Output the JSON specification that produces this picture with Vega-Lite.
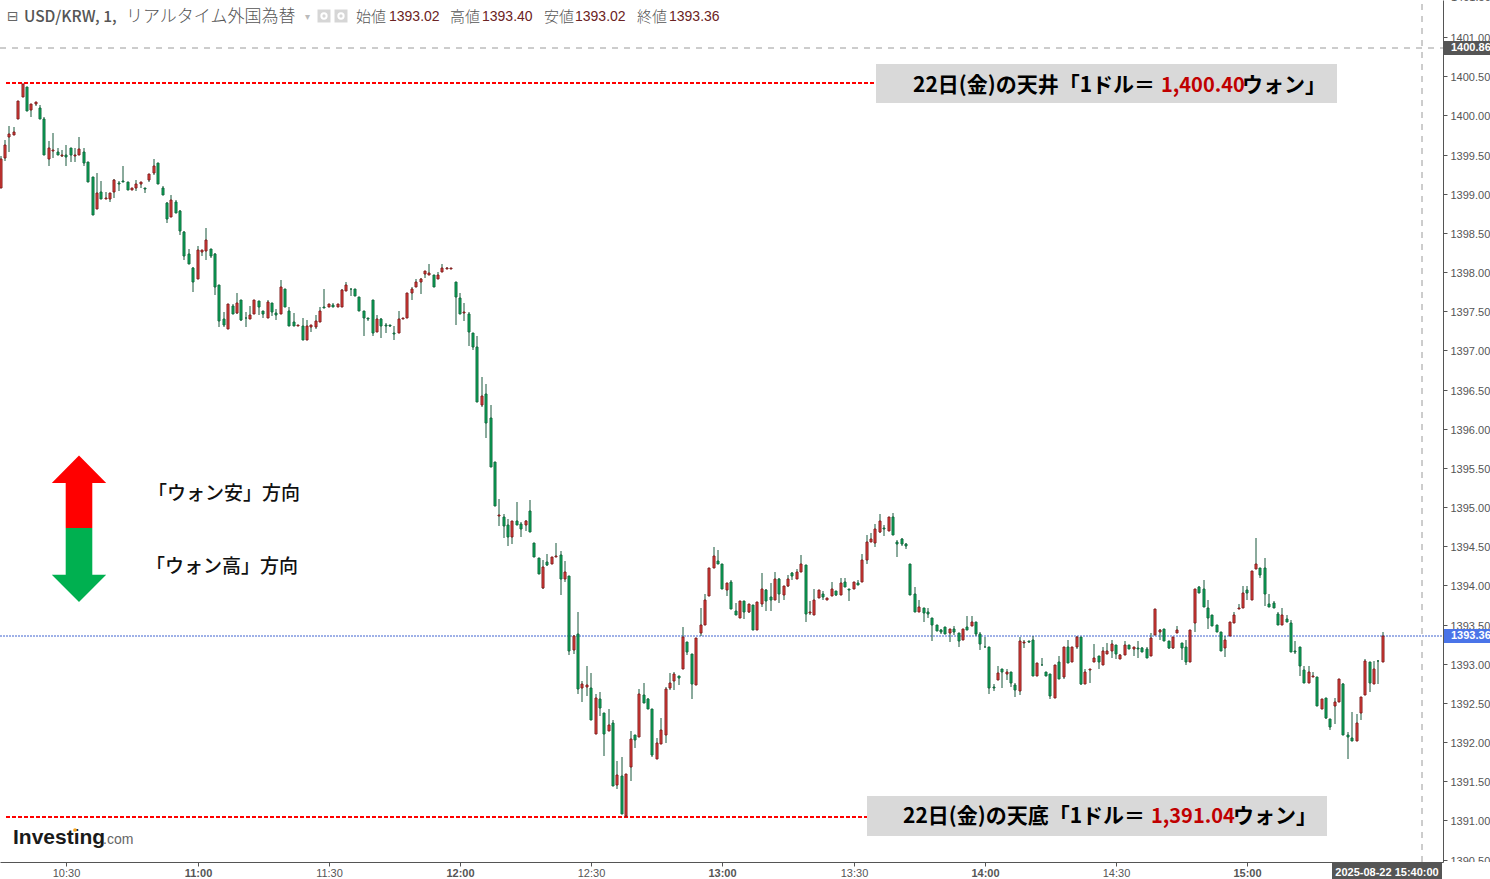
{"$schema":"https://vega.github.io/schema/vega-lite/v6.json","width":1443,"height":862,"autosize":{"type":"none"},"padding":{"left":0,"top":0,"right":47,"bottom":17},"background":"white","view":{"stroke":null},
"datasets":{"candles":[
{"t":"2025-08-22T10:15","o":1399.08,"h":1399.48,"l":1399.08,"c":1399.45},
{"t":"2025-08-22T10:16","o":1399.46,"h":1399.69,"l":1399.42,"c":1399.62},
{"t":"2025-08-22T10:17","o":1399.72,"h":1399.87,"l":1399.54,"c":1399.76},
{"t":"2025-08-22T10:18","o":1399.755,"h":1399.85,"l":1399.755,"c":1399.785},
{"t":"2025-08-22T10:19","o":1399.95,"h":1400.18,"l":1399.95,"c":1400.18},
{"t":"2025-08-22T10:20","o":1400.24,"h":1400.40,"l":1400.24,"c":1400.40},
{"t":"2025-08-22T10:21","o":1400.36,"h":1400.36,"l":1400.06,"c":1400.06},
{"t":"2025-08-22T10:22","o":1400.07,"h":1400.14,"l":1399.985,"c":1400.14},
{"t":"2025-08-22T10:23","o":1400.15,"h":1400.17,"l":1400.12,"c":1400.17},
{"t":"2025-08-22T10:24","o":1400.10,"h":1400.13,"l":1399.96,"c":1399.96},
{"t":"2025-08-22T10:25","o":1399.955,"h":1399.98,"l":1399.50,"c":1399.50},
{"t":"2025-08-22T10:26","o":1399.44,"h":1399.67,"l":1399.36,"c":1399.58},
{"t":"2025-08-22T10:27","o":1399.55,"h":1399.78,"l":1399.46,"c":1399.56},
{"t":"2025-08-22T10:28","o":1399.54,"h":1399.59,"l":1399.49,"c":1399.49},
{"t":"2025-08-22T10:29","o":1399.48,"h":1399.56,"l":1399.47,"c":1399.50},
{"t":"2025-08-22T10:30","o":1399.50,"h":1399.62,"l":1399.36,"c":1399.475},
{"t":"2025-08-22T10:31","o":1399.58,"h":1399.59,"l":1399.40,"c":1399.49},
{"t":"2025-08-22T10:32","o":1399.48,"h":1399.59,"l":1399.40,"c":1399.50},
{"t":"2025-08-22T10:33","o":1399.49,"h":1399.73,"l":1399.49,"c":1399.57},
{"t":"2025-08-22T10:34","o":1399.54,"h":1399.59,"l":1399.35,"c":1399.39},
{"t":"2025-08-22T10:35","o":1399.40,"h":1399.40,"l":1399.15,"c":1399.15},
{"t":"2025-08-22T10:36","o":1399.21,"h":1399.21,"l":1398.73,"c":1398.73},
{"t":"2025-08-22T10:37","o":1398.80,"h":1399.27,"l":1398.80,"c":1399.01},
{"t":"2025-08-22T10:38","o":1399.02,"h":1399.16,"l":1398.94,"c":1398.94},
{"t":"2025-08-22T10:39","o":1398.94,"h":1399.02,"l":1398.94,"c":1398.95},
{"t":"2025-08-22T10:40","o":1398.93,"h":1399.01,"l":1398.89,"c":1399.01},
{"t":"2025-08-22T10:41","o":1399.02,"h":1399.19,"l":1398.95,"c":1399.17},
{"t":"2025-08-22T10:42","o":1399.14,"h":1399.16,"l":1399.03,"c":1399.12},
{"t":"2025-08-22T10:43","o":1399.16,"h":1399.35,"l":1399.155,"c":1399.155},
{"t":"2025-08-22T10:44","o":1399.15,"h":1399.15,"l":1399.05,"c":1399.05},
{"t":"2025-08-22T10:45","o":1399.05,"h":1399.08,"l":1399.05,"c":1399.08},
{"t":"2025-08-22T10:46","o":1399.08,"h":1399.17,"l":1399.03,"c":1399.12},
{"t":"2025-08-22T10:47","o":1399.13,"h":1399.15,"l":1399.07,"c":1399.15},
{"t":"2025-08-22T10:48","o":1399.07,"h":1399.07,"l":1399.01,"c":1399.065},
{"t":"2025-08-22T10:49","o":1399.18,"h":1399.25,"l":1399.155,"c":1399.25},
{"t":"2025-08-22T10:50","o":1399.26,"h":1399.445,"l":1399.245,"c":1399.35},
{"t":"2025-08-22T10:51","o":1399.39,"h":1399.39,"l":1399.12,"c":1399.12},
{"t":"2025-08-22T10:52","o":1399.07,"h":1399.10,"l":1398.98,"c":1398.98},
{"t":"2025-08-22T10:53","o":1398.88,"h":1398.90,"l":1398.63,"c":1398.68},
{"t":"2025-08-22T10:54","o":1398.70,"h":1398.98,"l":1398.70,"c":1398.92},
{"t":"2025-08-22T10:55","o":1398.90,"h":1398.92,"l":1398.76,"c":1398.76},
{"t":"2025-08-22T10:56","o":1398.78,"h":1398.79,"l":1398.47,"c":1398.52},
{"t":"2025-08-22T10:57","o":1398.51,"h":1398.53,"l":1398.16,"c":1398.21},
{"t":"2025-08-22T10:58","o":1398.23,"h":1398.29,"l":1398.10,"c":1398.10},
{"t":"2025-08-22T10:59","o":1398.05,"h":1398.07,"l":1397.75,"c":1397.87},
{"t":"2025-08-22T11:00","o":1397.91,"h":1398.34,"l":1397.91,"c":1398.28},
{"t":"2025-08-22T11:01","o":1398.26,"h":1398.28,"l":1398.21,"c":1398.28},
{"t":"2025-08-22T11:02","o":1398.27,"h":1398.56,"l":1398.16,"c":1398.41},
{"t":"2025-08-22T11:03","o":1398.30,"h":1398.30,"l":1398.185,"c":1398.21},
{"t":"2025-08-22T11:04","o":1398.23,"h":1398.25,"l":1397.71,"c":1397.815},
{"t":"2025-08-22T11:05","o":1397.83,"h":1397.83,"l":1397.305,"c":1397.37},
{"t":"2025-08-22T11:06","o":1397.40,"h":1397.49,"l":1397.305,"c":1397.33},
{"t":"2025-08-22T11:07","o":1397.28,"h":1397.59,"l":1397.28,"c":1397.59},
{"t":"2025-08-22T11:08","o":1397.57,"h":1397.59,"l":1397.47,"c":1397.47},
{"t":"2025-08-22T11:09","o":1397.48,"h":1397.73,"l":1397.47,"c":1397.60},
{"t":"2025-08-22T11:10","o":1397.64,"h":1397.64,"l":1397.38,"c":1397.39},
{"t":"2025-08-22T11:11","o":1397.42,"h":1397.49,"l":1397.30,"c":1397.41},
{"t":"2025-08-22T11:12","o":1397.40,"h":1397.57,"l":1397.40,"c":1397.45},
{"t":"2025-08-22T11:13","o":1397.47,"h":1397.64,"l":1397.47,"c":1397.64},
{"t":"2025-08-22T11:14","o":1397.63,"h":1397.63,"l":1397.45,"c":1397.55},
{"t":"2025-08-22T11:15","o":1397.50,"h":1397.51,"l":1397.42,"c":1397.46},
{"t":"2025-08-22T11:16","o":1397.42,"h":1397.65,"l":1397.42,"c":1397.615},
{"t":"2025-08-22T11:17","o":1397.60,"h":1397.60,"l":1397.445,"c":1397.49},
{"t":"2025-08-22T11:18","o":1397.475,"h":1397.525,"l":1397.39,"c":1397.45},
{"t":"2025-08-22T11:19","o":1397.46,"h":1397.895,"l":1397.46,"c":1397.81},
{"t":"2025-08-22T11:20","o":1397.78,"h":1397.78,"l":1397.55,"c":1397.55},
{"t":"2025-08-22T11:21","o":1397.51,"h":1397.55,"l":1397.31,"c":1397.31},
{"t":"2025-08-22T11:22","o":1397.36,"h":1397.475,"l":1397.31,"c":1397.31},
{"t":"2025-08-22T11:23","o":1397.31,"h":1397.33,"l":1397.31,"c":1397.33},
{"t":"2025-08-22T11:24","o":1397.31,"h":1397.41,"l":1397.13,"c":1397.13},
{"t":"2025-08-22T11:25","o":1397.13,"h":1397.385,"l":1397.13,"c":1397.31},
{"t":"2025-08-22T11:26","o":1397.30,"h":1397.33,"l":1397.24,"c":1397.33},
{"t":"2025-08-22T11:27","o":1397.30,"h":1397.45,"l":1397.28,"c":1397.37},
{"t":"2025-08-22T11:28","o":1397.36,"h":1397.55,"l":1397.36,"c":1397.51},
{"t":"2025-08-22T11:29","o":1397.55,"h":1397.78,"l":1397.54,"c":1397.54},
{"t":"2025-08-22T11:30","o":1397.55,"h":1397.59,"l":1397.55,"c":1397.59},
{"t":"2025-08-22T11:31","o":1397.58,"h":1397.60,"l":1397.56,"c":1397.56},
{"t":"2025-08-22T11:32","o":1397.56,"h":1397.59,"l":1397.56,"c":1397.59},
{"t":"2025-08-22T11:33","o":1397.56,"h":1397.78,"l":1397.56,"c":1397.77},
{"t":"2025-08-22T11:34","o":1397.755,"h":1397.87,"l":1397.755,"c":1397.83},
{"t":"2025-08-22T11:35","o":1397.79,"h":1397.79,"l":1397.70,"c":1397.78},
{"t":"2025-08-22T11:36","o":1397.78,"h":1397.79,"l":1397.69,"c":1397.69},
{"t":"2025-08-22T11:37","o":1397.68,"h":1397.68,"l":1397.51,"c":1397.51},
{"t":"2025-08-22T11:38","o":1397.50,"h":1397.50,"l":1397.19,"c":1397.41},
{"t":"2025-08-22T11:39","o":1397.42,"h":1397.42,"l":1397.37,"c":1397.40},
{"t":"2025-08-22T11:40","o":1397.65,"h":1397.65,"l":1397.19,"c":1397.22},
{"t":"2025-08-22T11:41","o":1397.23,"h":1397.45,"l":1397.23,"c":1397.40},
{"t":"2025-08-22T11:42","o":1397.40,"h":1397.41,"l":1397.155,"c":1397.31},
{"t":"2025-08-22T11:43","o":1397.33,"h":1397.35,"l":1397.22,"c":1397.31},
{"t":"2025-08-22T11:44","o":1397.32,"h":1397.32,"l":1397.295,"c":1397.31},
{"t":"2025-08-22T11:45","o":1397.22,"h":1397.31,"l":1397.13,"c":1397.21},
{"t":"2025-08-22T11:46","o":1397.22,"h":1397.51,"l":1397.22,"c":1397.40},
{"t":"2025-08-22T11:47","o":1397.405,"h":1397.42,"l":1397.405,"c":1397.415},
{"t":"2025-08-22T11:48","o":1397.41,"h":1397.73,"l":1397.41,"c":1397.73},
{"t":"2025-08-22T11:49","o":1397.73,"h":1397.81,"l":1397.65,"c":1397.78},
{"t":"2025-08-22T11:50","o":1397.81,"h":1397.91,"l":1397.81,"c":1397.87},
{"t":"2025-08-22T11:51","o":1397.87,"h":1397.93,"l":1397.72,"c":1397.91},
{"t":"2025-08-22T11:52","o":1397.97,"h":1398.01,"l":1397.92,"c":1398.01},
{"t":"2025-08-22T11:53","o":1397.96,"h":1398.10,"l":1397.96,"c":1397.985},
{"t":"2025-08-22T11:54","o":1397.96,"h":1397.96,"l":1397.81,"c":1397.81},
{"t":"2025-08-22T11:55","o":1397.91,"h":1398.00,"l":1397.91,"c":1397.96},
{"t":"2025-08-22T11:56","o":1398.00,"h":1398.10,"l":1398.00,"c":1398.05},
{"t":"2025-08-22T11:57","o":1398.045,"h":1398.06,"l":1398.045,"c":1398.05},
{"t":"2025-08-22T11:58","o":1398.045,"h":1398.05,"l":1398.045,"c":1398.05},
{"t":"2025-08-22T11:59","o":1397.88,"h":1397.88,"l":1397.33,"c":1397.68},
{"t":"2025-08-22T12:00","o":1397.67,"h":1397.73,"l":1397.46,"c":1397.46},
{"t":"2025-08-22T12:01","o":1397.475,"h":1397.60,"l":1397.37,"c":1397.49},
{"t":"2025-08-22T12:02","o":1397.46,"h":1397.49,"l":1397.06,"c":1397.23},
{"t":"2025-08-22T12:03","o":1397.22,"h":1397.22,"l":1397.00,"c":1397.04},
{"t":"2025-08-22T12:04","o":1397.04,"h":1397.18,"l":1396.34,"c":1396.34},
{"t":"2025-08-22T12:05","o":1396.30,"h":1396.66,"l":1396.275,"c":1396.415},
{"t":"2025-08-22T12:06","o":1396.45,"h":1396.57,"l":1395.88,"c":1396.07},
{"t":"2025-08-22T12:07","o":1396.135,"h":1396.30,"l":1395.51,"c":1395.51},
{"t":"2025-08-22T12:08","o":1395.57,"h":1395.57,"l":1395.01,"c":1395.02},
{"t":"2025-08-22T12:09","o":1394.885,"h":1395.10,"l":1394.765,"c":1394.90},
{"t":"2025-08-22T12:10","o":1394.87,"h":1394.91,"l":1394.61,"c":1394.76},
{"t":"2025-08-22T12:11","o":1394.77,"h":1394.845,"l":1394.51,"c":1394.62},
{"t":"2025-08-22T12:12","o":1394.62,"h":1394.82,"l":1394.53,"c":1394.82},
{"t":"2025-08-22T12:13","o":1394.82,"h":1395.06,"l":1394.77,"c":1394.77},
{"t":"2025-08-22T12:14","o":1394.79,"h":1394.81,"l":1394.62,"c":1394.72},
{"t":"2025-08-22T12:15","o":1394.77,"h":1394.83,"l":1394.69,"c":1394.82},
{"t":"2025-08-22T12:16","o":1394.95,"h":1395.09,"l":1394.68,"c":1394.68},
{"t":"2025-08-22T12:17","o":1394.54,"h":1394.54,"l":1394.36,"c":1394.36},
{"t":"2025-08-22T12:18","o":1394.35,"h":1394.35,"l":1394.15,"c":1394.15},
{"t":"2025-08-22T12:19","o":1393.97,"h":1394.32,"l":1393.95,"c":1394.23},
{"t":"2025-08-22T12:20","o":1394.30,"h":1394.40,"l":1394.25,"c":1394.26},
{"t":"2025-08-22T12:21","o":1394.27,"h":1394.36,"l":1394.27,"c":1394.36},
{"t":"2025-08-22T12:22","o":1394.36,"h":1394.54,"l":1394.36,"c":1394.37},
{"t":"2025-08-22T12:23","o":1394.385,"h":1394.44,"l":1393.875,"c":1394.08},
{"t":"2025-08-22T12:24","o":1394.08,"h":1394.31,"l":1394.04,"c":1394.17},
{"t":"2025-08-22T12:25","o":1394.12,"h":1394.12,"l":1393.11,"c":1393.16},
{"t":"2025-08-22T12:26","o":1393.17,"h":1393.37,"l":1393.12,"c":1393.36},
{"t":"2025-08-22T12:27","o":1393.375,"h":1393.66,"l":1392.61,"c":1392.675},
{"t":"2025-08-22T12:28","o":1392.69,"h":1392.78,"l":1392.51,"c":1392.74},
{"t":"2025-08-22T12:29","o":1392.70,"h":1392.97,"l":1392.585,"c":1392.725},
{"t":"2025-08-22T12:30","o":1392.69,"h":1392.88,"l":1392.28,"c":1392.28},
{"t":"2025-08-22T12:31","o":1392.11,"h":1392.61,"l":1392.11,"c":1392.56},
{"t":"2025-08-22T12:32","o":1392.55,"h":1392.64,"l":1392.33,"c":1392.43},
{"t":"2025-08-22T12:33","o":1392.37,"h":1392.37,"l":1391.82,"c":1392.11},
{"t":"2025-08-22T12:34","o":1392.14,"h":1392.42,"l":1392.14,"c":1392.215},
{"t":"2025-08-22T12:35","o":1392.24,"h":1392.28,"l":1391.44,"c":1391.44},
{"t":"2025-08-22T12:36","o":1391.45,"h":1391.76,"l":1391.40,"c":1391.58},
{"t":"2025-08-22T12:37","o":1391.565,"h":1391.81,"l":1391.08,"c":1391.08},
{"t":"2025-08-22T12:38","o":1391.06,"h":1391.59,"l":1391.04,"c":1391.59},
{"t":"2025-08-22T12:39","o":1391.68,"h":1392.14,"l":1391.51,"c":1392.04},
{"t":"2025-08-22T12:40","o":1392.09,"h":1392.09,"l":1391.93,"c":1392.025},
{"t":"2025-08-22T12:41","o":1392.06,"h":1392.675,"l":1392.06,"c":1392.62},
{"t":"2025-08-22T12:42","o":1392.60,"h":1392.75,"l":1392.495,"c":1392.495},
{"t":"2025-08-22T12:43","o":1392.55,"h":1392.56,"l":1392.42,"c":1392.42},
{"t":"2025-08-22T12:44","o":1392.42,"h":1392.42,"l":1391.815,"c":1391.83},
{"t":"2025-08-22T12:45","o":1391.78,"h":1392.05,"l":1391.78,"c":1391.985},
{"t":"2025-08-22T12:46","o":1391.97,"h":1392.305,"l":1391.97,"c":1392.15},
{"t":"2025-08-22T12:47","o":1392.09,"h":1392.70,"l":1391.985,"c":1392.675},
{"t":"2025-08-22T12:48","o":1392.69,"h":1392.88,"l":1392.66,"c":1392.75},
{"t":"2025-08-22T12:49","o":1392.78,"h":1392.89,"l":1392.66,"c":1392.865},
{"t":"2025-08-22T12:50","o":1392.85,"h":1392.85,"l":1392.725,"c":1392.815},
{"t":"2025-08-22T12:51","o":1392.93,"h":1393.466,"l":1392.93,"c":1393.34},
{"t":"2025-08-22T12:52","o":1393.275,"h":1393.275,"l":1393.11,"c":1393.15},
{"t":"2025-08-22T12:53","o":1393.12,"h":1393.12,"l":1392.55,"c":1392.74},
{"t":"2025-08-22T12:54","o":1392.725,"h":1393.325,"l":1392.725,"c":1393.325},
{"t":"2025-08-22T12:55","o":1393.39,"h":1393.71,"l":1393.36,"c":1393.49},
{"t":"2025-08-22T12:56","o":1393.49,"h":1393.89,"l":1393.49,"c":1393.81},
{"t":"2025-08-22T12:57","o":1393.86,"h":1394.22,"l":1393.86,"c":1394.22},
{"t":"2025-08-22T12:58","o":1394.22,"h":1394.49,"l":1394.22,"c":1394.37},
{"t":"2025-08-22T12:59","o":1394.31,"h":1394.45,"l":1394.27,"c":1394.27},
{"t":"2025-08-22T13:00","o":1394.28,"h":1394.28,"l":1393.95,"c":1393.96},
{"t":"2025-08-22T13:01","o":1393.94,"h":1394.03,"l":1393.86,"c":1394.03},
{"t":"2025-08-22T13:02","o":1394.04,"h":1394.065,"l":1393.70,"c":1393.695},
{"t":"2025-08-22T13:03","o":1393.68,"h":1393.77,"l":1393.62,"c":1393.62},
{"t":"2025-08-22T13:04","o":1393.59,"h":1393.80,"l":1393.59,"c":1393.80},
{"t":"2025-08-22T13:05","o":1393.80,"h":1393.80,"l":1393.57,"c":1393.66},
{"t":"2025-08-22T13:06","o":1393.66,"h":1393.76,"l":1393.645,"c":1393.76},
{"t":"2025-08-22T13:07","o":1393.75,"h":1393.75,"l":1393.43,"c":1393.43},
{"t":"2025-08-22T13:08","o":1393.43,"h":1393.785,"l":1393.43,"c":1393.785},
{"t":"2025-08-22T13:09","o":1393.76,"h":1394.155,"l":1393.72,"c":1393.95},
{"t":"2025-08-22T13:10","o":1393.94,"h":1393.96,"l":1393.67,"c":1393.80},
{"t":"2025-08-22T13:11","o":1393.85,"h":1394.03,"l":1393.67,"c":1393.82},
{"t":"2025-08-22T13:12","o":1393.81,"h":1394.17,"l":1393.81,"c":1394.08},
{"t":"2025-08-22T13:13","o":1394.08,"h":1394.09,"l":1393.77,"c":1393.89},
{"t":"2025-08-22T13:14","o":1393.875,"h":1393.99,"l":1393.82,"c":1393.99},
{"t":"2025-08-22T13:15","o":1393.99,"h":1394.13,"l":1393.975,"c":1394.08},
{"t":"2025-08-22T13:16","o":1394.155,"h":1394.17,"l":1394.065,"c":1394.12},
{"t":"2025-08-22T13:17","o":1394.08,"h":1394.21,"l":1394.08,"c":1394.17},
{"t":"2025-08-22T13:18","o":1394.17,"h":1394.385,"l":1394.17,"c":1394.27},
{"t":"2025-08-22T13:19","o":1394.26,"h":1394.26,"l":1393.53,"c":1393.63},
{"t":"2025-08-22T13:20","o":1393.65,"h":1393.80,"l":1393.62,"c":1393.66},
{"t":"2025-08-22T13:21","o":1393.62,"h":1393.95,"l":1393.62,"c":1393.82},
{"t":"2025-08-22T13:22","o":1393.835,"h":1393.94,"l":1393.835,"c":1393.94},
{"t":"2025-08-22T13:23","o":1393.89,"h":1393.925,"l":1393.81,"c":1393.85},
{"t":"2025-08-22T13:24","o":1393.82,"h":1393.84,"l":1393.81,"c":1393.84},
{"t":"2025-08-22T13:25","o":1393.86,"h":1394.05,"l":1393.86,"c":1393.95},
{"t":"2025-08-22T13:26","o":1393.925,"h":1393.925,"l":1393.86,"c":1393.875},
{"t":"2025-08-22T13:27","o":1393.875,"h":1394.10,"l":1393.875,"c":1394.03},
{"t":"2025-08-22T13:28","o":1394.04,"h":1394.09,"l":1393.975,"c":1393.975},
{"t":"2025-08-22T13:29","o":1393.95,"h":1393.95,"l":1393.80,"c":1393.94},
{"t":"2025-08-22T13:30","o":1393.95,"h":1394.05,"l":1393.95,"c":1394.05},
{"t":"2025-08-22T13:31","o":1394.03,"h":1394.065,"l":1394.01,"c":1394.01},
{"t":"2025-08-22T13:32","o":1394.05,"h":1394.40,"l":1394.05,"c":1394.32},
{"t":"2025-08-22T13:33","o":1394.33,"h":1394.64,"l":1394.28,"c":1394.55},
{"t":"2025-08-22T13:34","o":1394.55,"h":1394.665,"l":1394.55,"c":1394.59},
{"t":"2025-08-22T13:35","o":1394.54,"h":1394.78,"l":1394.49,"c":1394.72},
{"t":"2025-08-22T13:36","o":1394.68,"h":1394.91,"l":1394.665,"c":1394.82},
{"t":"2025-08-22T13:37","o":1394.74,"h":1394.77,"l":1394.63,"c":1394.72},
{"t":"2025-08-22T13:38","o":1394.70,"h":1394.87,"l":1394.69,"c":1394.87},
{"t":"2025-08-22T13:39","o":1394.88,"h":1394.92,"l":1394.65,"c":1394.65},
{"t":"2025-08-22T13:40","o":1394.56,"h":1394.575,"l":1394.36,"c":1394.525},
{"t":"2025-08-22T13:41","o":1394.59,"h":1394.61,"l":1394.51,"c":1394.525},
{"t":"2025-08-22T13:42","o":1394.525,"h":1394.54,"l":1394.46,"c":1394.50},
{"t":"2025-08-22T13:43","o":1394.27,"h":1394.27,"l":1393.875,"c":1393.875},
{"t":"2025-08-22T13:44","o":1393.89,"h":1393.975,"l":1393.66,"c":1393.66},
{"t":"2025-08-22T13:45","o":1393.66,"h":1393.81,"l":1393.66,"c":1393.73},
{"t":"2025-08-22T13:46","o":1393.71,"h":1393.71,"l":1393.53,"c":1393.645},
{"t":"2025-08-22T13:47","o":1393.66,"h":1393.71,"l":1393.59,"c":1393.63},
{"t":"2025-08-22T13:48","o":1393.58,"h":1393.58,"l":1393.29,"c":1393.49},
{"t":"2025-08-22T13:49","o":1393.49,"h":1393.49,"l":1393.415,"c":1393.415},
{"t":"2025-08-22T13:50","o":1393.43,"h":1393.45,"l":1393.375,"c":1393.40},
{"t":"2025-08-22T13:51","o":1393.465,"h":1393.465,"l":1393.375,"c":1393.375},
{"t":"2025-08-22T13:52","o":1393.39,"h":1393.45,"l":1393.275,"c":1393.45},
{"t":"2025-08-22T13:53","o":1393.44,"h":1393.48,"l":1393.365,"c":1393.40},
{"t":"2025-08-22T13:54","o":1393.39,"h":1393.39,"l":1393.21,"c":1393.29},
{"t":"2025-08-22T13:55","o":1393.31,"h":1393.44,"l":1393.31,"c":1393.44},
{"t":"2025-08-22T13:56","o":1393.465,"h":1393.605,"l":1393.43,"c":1393.43},
{"t":"2025-08-22T13:57","o":1393.48,"h":1393.605,"l":1393.48,"c":1393.53},
{"t":"2025-08-22T13:58","o":1393.53,"h":1393.53,"l":1393.35,"c":1393.375},
{"t":"2025-08-22T13:59","o":1393.375,"h":1393.40,"l":1393.17,"c":1393.25},
{"t":"2025-08-22T14:00","o":1393.215,"h":1393.34,"l":1393.21,"c":1393.21},
{"t":"2025-08-22T14:01","o":1393.22,"h":1393.22,"l":1392.62,"c":1392.69},
{"t":"2025-08-22T14:02","o":1392.70,"h":1392.74,"l":1392.65,"c":1392.69},
{"t":"2025-08-22T14:03","o":1392.79,"h":1392.97,"l":1392.79,"c":1392.88},
{"t":"2025-08-22T14:04","o":1392.93,"h":1392.93,"l":1392.69,"c":1392.89},
{"t":"2025-08-22T14:05","o":1392.865,"h":1392.93,"l":1392.79,"c":1392.90},
{"t":"2025-08-22T14:06","o":1392.89,"h":1392.89,"l":1392.70,"c":1392.75},
{"t":"2025-08-22T14:07","o":1392.725,"h":1392.75,"l":1392.57,"c":1392.66},
{"t":"2025-08-22T14:08","o":1392.65,"h":1393.34,"l":1392.60,"c":1393.29},
{"t":"2025-08-22T14:09","o":1393.27,"h":1393.30,"l":1393.20,"c":1393.28},
{"t":"2025-08-22T14:10","o":1393.29,"h":1393.29,"l":1393.26,"c":1393.275},
{"t":"2025-08-22T14:11","o":1393.30,"h":1393.355,"l":1392.85,"c":1392.85},
{"t":"2025-08-22T14:12","o":1392.85,"h":1393.01,"l":1392.85,"c":1393.01},
{"t":"2025-08-22T14:13","o":1392.99,"h":1393.07,"l":1392.98,"c":1392.98},
{"t":"2025-08-22T14:14","o":1392.89,"h":1392.89,"l":1392.84,"c":1392.84},
{"t":"2025-08-22T14:15","o":1392.865,"h":1392.865,"l":1392.55,"c":1392.585},
{"t":"2025-08-22T14:16","o":1392.56,"h":1392.99,"l":1392.56,"c":1392.99},
{"t":"2025-08-22T14:17","o":1393.02,"h":1393.095,"l":1392.80,"c":1392.80},
{"t":"2025-08-22T14:18","o":1392.83,"h":1393.22,"l":1392.80,"c":1393.22},
{"t":"2025-08-22T14:19","o":1393.21,"h":1393.30,"l":1393.005,"c":1393.005},
{"t":"2025-08-22T14:20","o":1393.02,"h":1393.22,"l":1393.02,"c":1393.21},
{"t":"2025-08-22T14:21","o":1393.22,"h":1393.36,"l":1393.185,"c":1393.34},
{"t":"2025-08-22T14:22","o":1393.34,"h":1393.34,"l":1392.725,"c":1392.74},
{"t":"2025-08-22T14:23","o":1392.74,"h":1392.93,"l":1392.74,"c":1392.90},
{"t":"2025-08-22T14:24","o":1392.92,"h":1392.93,"l":1392.76,"c":1392.93},
{"t":"2025-08-22T14:25","o":1393.02,"h":1393.25,"l":1393.02,"c":1393.07},
{"t":"2025-08-22T14:26","o":1393.095,"h":1393.095,"l":1392.94,"c":1393.02},
{"t":"2025-08-22T14:27","o":1392.99,"h":1393.21,"l":1392.99,"c":1393.16},
{"t":"2025-08-22T14:28","o":1393.12,"h":1393.26,"l":1393.12,"c":1393.16},
{"t":"2025-08-22T14:29","o":1393.16,"h":1393.31,"l":1393.07,"c":1393.25},
{"t":"2025-08-22T14:30","o":1393.235,"h":1393.235,"l":1393.06,"c":1393.13},
{"t":"2025-08-22T14:31","o":1393.06,"h":1393.12,"l":1393.06,"c":1393.11},
{"t":"2025-08-22T14:32","o":1393.11,"h":1393.29,"l":1393.11,"c":1393.235},
{"t":"2025-08-22T14:33","o":1393.235,"h":1393.235,"l":1393.185,"c":1393.185},
{"t":"2025-08-22T14:34","o":1393.185,"h":1393.21,"l":1393.095,"c":1393.21},
{"t":"2025-08-22T14:35","o":1393.20,"h":1393.29,"l":1393.07,"c":1393.185},
{"t":"2025-08-22T14:36","o":1393.197,"h":1393.21,"l":1393.146,"c":1393.146},
{"t":"2025-08-22T14:37","o":1393.185,"h":1393.21,"l":1393.08,"c":1393.08},
{"t":"2025-08-22T14:38","o":1393.095,"h":1393.39,"l":1393.095,"c":1393.325},
{"t":"2025-08-22T14:39","o":1393.364,"h":1393.695,"l":1393.364,"c":1393.695},
{"t":"2025-08-22T14:40","o":1393.40,"h":1393.45,"l":1393.30,"c":1393.427},
{"t":"2025-08-22T14:41","o":1393.44,"h":1393.45,"l":1393.29,"c":1393.29},
{"t":"2025-08-22T14:42","o":1393.29,"h":1393.29,"l":1393.185,"c":1393.20},
{"t":"2025-08-22T14:43","o":1393.20,"h":1393.34,"l":1393.185,"c":1393.34},
{"t":"2025-08-22T14:44","o":1393.39,"h":1393.48,"l":1393.39,"c":1393.43},
{"t":"2025-08-22T14:45","o":1393.26,"h":1393.26,"l":1393.05,"c":1393.20},
{"t":"2025-08-22T14:46","o":1393.21,"h":1393.31,"l":1392.98,"c":1393.02},
{"t":"2025-08-22T14:47","o":1393.02,"h":1393.43,"l":1393.02,"c":1393.43},
{"t":"2025-08-22T14:48","o":1393.52,"h":1393.95,"l":1393.41,"c":1393.95},
{"t":"2025-08-22T14:49","o":1393.98,"h":1393.99,"l":1393.91,"c":1393.91},
{"t":"2025-08-22T14:50","o":1393.96,"h":1394.07,"l":1393.72,"c":1393.72},
{"t":"2025-08-22T14:51","o":1393.71,"h":1393.82,"l":1393.44,"c":1393.59},
{"t":"2025-08-22T14:52","o":1393.62,"h":1393.62,"l":1393.48,"c":1393.48},
{"t":"2025-08-22T14:53","o":1393.49,"h":1393.49,"l":1393.40,"c":1393.40},
{"t":"2025-08-22T14:54","o":1393.41,"h":1393.41,"l":1393.16,"c":1393.16},
{"t":"2025-08-22T14:55","o":1393.20,"h":1393.36,"l":1393.09,"c":1393.30},
{"t":"2025-08-22T14:56","o":1393.36,"h":1393.54,"l":1393.36,"c":1393.53},
{"t":"2025-08-22T14:57","o":1393.52,"h":1393.66,"l":1393.52,"c":1393.62},
{"t":"2025-08-22T14:58","o":1393.70,"h":1393.76,"l":1393.70,"c":1393.71},
{"t":"2025-08-22T14:59","o":1393.71,"h":1393.99,"l":1393.71,"c":1393.90},
{"t":"2025-08-22T15:00","o":1393.94,"h":1393.99,"l":1393.81,"c":1393.90},
{"t":"2025-08-22T15:01","o":1393.81,"h":1394.18,"l":1393.81,"c":1394.18},
{"t":"2025-08-22T15:02","o":1394.21,"h":1394.61,"l":1394.21,"c":1394.27},
{"t":"2025-08-22T15:03","o":1394.22,"h":1394.22,"l":1394.10,"c":1394.13},
{"t":"2025-08-22T15:04","o":1394.22,"h":1394.35,"l":1393.74,"c":1393.89},
{"t":"2025-08-22T15:05","o":1393.76,"h":1393.89,"l":1393.72,"c":1393.72},
{"t":"2025-08-22T15:06","o":1393.77,"h":1393.80,"l":1393.71,"c":1393.71},
{"t":"2025-08-22T15:07","o":1393.63,"h":1393.66,"l":1393.50,"c":1393.50},
{"t":"2025-08-22T15:08","o":1393.49,"h":1393.71,"l":1393.49,"c":1393.62},
{"t":"2025-08-22T15:09","o":1393.57,"h":1393.62,"l":1393.53,"c":1393.54},
{"t":"2025-08-22T15:10","o":1393.52,"h":1393.555,"l":1393.15,"c":1393.15},
{"t":"2025-08-22T15:11","o":1393.16,"h":1393.29,"l":1393.12,"c":1393.155},
{"t":"2025-08-22T15:12","o":1393.22,"h":1393.22,"l":1392.84,"c":1392.97},
{"t":"2025-08-22T15:13","o":1392.92,"h":1392.97,"l":1392.75,"c":1392.75},
{"t":"2025-08-22T15:14","o":1392.75,"h":1392.97,"l":1392.75,"c":1392.89},
{"t":"2025-08-22T15:15","o":1392.83,"h":1392.90,"l":1392.83,"c":1392.84},
{"t":"2025-08-22T15:16","o":1392.83,"h":1392.83,"l":1392.46,"c":1392.46},
{"t":"2025-08-22T15:17","o":1392.42,"h":1392.55,"l":1392.42,"c":1392.55},
{"t":"2025-08-22T15:18","o":1392.56,"h":1392.56,"l":1392.30,"c":1392.31},
{"t":"2025-08-22T15:19","o":1392.29,"h":1392.29,"l":1392.15,"c":1392.19},
{"t":"2025-08-22T15:20","o":1392.46,"h":1392.56,"l":1392.23,"c":1392.51},
{"t":"2025-08-22T15:21","o":1392.51,"h":1392.81,"l":1392.51,"c":1392.81},
{"t":"2025-08-22T15:22","o":1392.74,"h":1392.75,"l":1392.09,"c":1392.09},
{"t":"2025-08-22T15:23","o":1392.09,"h":1392.13,"l":1391.78,"c":1392.06},
{"t":"2025-08-22T15:24","o":1392.05,"h":1392.38,"l":1392.01,"c":1392.01},
{"t":"2025-08-22T15:25","o":1392.02,"h":1392.36,"l":1392.02,"c":1392.25},
{"t":"2025-08-22T15:26","o":1392.37,"h":1392.57,"l":1392.28,"c":1392.57},
{"t":"2025-08-22T15:27","o":1392.60,"h":1393.06,"l":1392.60,"c":1393.03},
{"t":"2025-08-22T15:28","o":1393.02,"h":1393.02,"l":1392.64,"c":1392.75},
{"t":"2025-08-22T15:29","o":1392.74,"h":1393.03,"l":1392.74,"c":1392.93},
{"t":"2025-08-22T15:30","o":1393.036,"h":1393.044,"l":1392.74,"c":1393.03},
{"t":"2025-08-22T15:31","o":1393.02,"h":1393.40,"l":1393.02,"c":1393.36}
]},
"encoding":{
"x":{"field":"t","type":"temporal","title":null,"scale":{"domain":[{"year":2025,"month":8,"date":22,"hours":10,"minutes":14,"seconds":50},{"year":2025,"month":8,"date":22,"hours":15,"minutes":44,"seconds":45}],"round":true,"padding":0},
"axis":{"orient":"bottom","format":"%H:%M","grid":false,"values":[{"year":2025,"month":8,"date":22,"hours":10,"minutes":30},{"year":2025,"month":8,"date":22,"hours":11,"minutes":0},{"year":2025,"month":8,"date":22,"hours":11,"minutes":30},{"year":2025,"month":8,"date":22,"hours":12,"minutes":0},{"year":2025,"month":8,"date":22,"hours":12,"minutes":30},{"year":2025,"month":8,"date":22,"hours":13,"minutes":0},{"year":2025,"month":8,"date":22,"hours":13,"minutes":30},{"year":2025,"month":8,"date":22,"hours":14,"minutes":0},{"year":2025,"month":8,"date":22,"hours":14,"minutes":30},{"year":2025,"month":8,"date":22,"hours":15,"minutes":0}],"labelFont":"Liberation Sans","labelFontSize":11,"labelColor":"#555555","labelFontWeight":{"condition":{"test":"minutes(datum.value)===0","value":"bold"},"value":"normal"},"tickColor":"#555555","domainColor":"#555555","tickSize":4,"labelPadding":1,"labelOverlap":false}},
"y":{"field":"p","type":"quantitative","title":null,"scale":{"domain":[1390.47,1401.474],"zero":false,"nice":false,"round":true},
"axis":{"orient":"right","format":".2f","grid":false,"values":[1390.5,1391,1391.5,1392,1392.5,1393,1393.5,1394,1394.5,1395,1395.5,1396,1396.5,1397,1397.5,1398,1398.5,1399,1399.5,1400,1400.5,1401,1401.5],"labelFont":"Liberation Sans","labelFontSize":11,"labelColor":"#555555","tickColor":"#555555","domainColor":"#555555","tickSize":4,"labelPadding":3,"labelOffset":1,"labelOverlap":false,"labelBound":false,"labelFlush":false}}
},
"layer":[
{"data":{"values":[{"t":"2025-08-22T13:35:06","p":1400.66,"t2":"2025-08-22T15:20:30","p2":1400.16},{"t":"2025-08-22T13:33:03","p":1391.31,"t2":"2025-08-22T15:18:12","p2":1390.80}]},"mark":{"type":"rect","color":"#d9d9d9"},"encoding":{"x2":{"field":"t2"},"y2":{"field":"p2"}}},
{"data":{"values":[{"t":"2025-08-22T10:14:50","t2":"2025-08-22T15:44:45","p":1400.86}]},"mark":{"type":"rule","color":"#9a9a9a","strokeWidth":1,"strokeDash":[6,6]},"encoding":{"x2":{"field":"t2"}}},
{"data":{"values":[{"t":"2025-08-22T15:40","p":1390.47,"p2":1401.474}]},"mark":{"type":"rule","color":"#9a9a9a","strokeWidth":1,"strokeDash":[6,6]},"encoding":{"y2":{"field":"p2"}}},
{"data":{"values":[{"t":"2025-08-22T10:14:50","t2":"2025-08-22T15:44:45","p":1393.36}]},"mark":{"type":"rule","color":"#3f62cf","strokeWidth":1,"strokeDash":[2,1]},"encoding":{"x2":{"field":"t2"}}},
{"data":{"values":[{"t":"2025-08-22T10:16:12","t2":"2025-08-22T13:35:06","p":1400.41},{"t":"2025-08-22T10:16:12","t2":"2025-08-22T13:33:03","p":1391.05}]},"mark":{"type":"rule","color":"#ff0000","strokeWidth":2,"strokeDash":[4,2]},"encoding":{"x2":{"field":"t2"}}},
{"data":{"name":"candles"},"mark":{"type":"rule","color":"#17573a","strokeWidth":1},"encoding":{"y":{"field":"l","type":"quantitative","title":null,"scale":{"domain":[1390.47,1401.474],"zero":false,"nice":false,"round":true},"axis":{"orient":"right","format":".2f","grid":false,"values":[1390.5,1391,1391.5,1392,1392.5,1393,1393.5,1394,1394.5,1395,1395.5,1396,1396.5,1397,1397.5,1398,1398.5,1399,1399.5,1400,1400.5,1401,1401.5],"labelFont":"Liberation Sans","labelFontSize":11,"labelColor":"#555555","tickColor":"#555555","domainColor":"#555555","tickSize":4,"labelPadding":3,"labelOffset":1,"labelOverlap":false,"labelBound":false,"labelFlush":false}},"y2":{"field":"h"}}},
{"data":{"name":"candles"},"mark":{"type":"bar","size":2,"strokeWidth":1},"encoding":{"y":{"field":"o","type":"quantitative","title":null,"scale":{"domain":[1390.47,1401.474],"zero":false,"nice":false,"round":true},"axis":{"orient":"right","format":".2f","grid":false,"values":[1390.5,1391,1391.5,1392,1392.5,1393,1393.5,1394,1394.5,1395,1395.5,1396,1396.5,1397,1397.5,1398,1398.5,1399,1399.5,1400,1400.5,1401,1401.5],"labelFont":"Liberation Sans","labelFontSize":11,"labelColor":"#555555","tickColor":"#555555","domainColor":"#555555","tickSize":4,"labelPadding":3,"labelOffset":1,"labelOverlap":false,"labelBound":false,"labelFlush":false}},"y2":{"field":"c"},"fill":{"condition":{"test":"datum.c>datum.o","value":"#f5403c"},"value":"#00b35a"},"stroke":{"condition":{"test":"datum.c>datum.o","value":"#7a1e1e"},"value":"#17663f"}}},
{"data":{"values":[{"t":"2025-08-22T10:32:54","p":1394.73}]},"mark":{"type":"point","filled":true,"opacity":1,"size":40000,"color":"#ff0000","strokeWidth":0,"shape":"M0,-0.726L0.272,-0.45L0.133,-0.45L0.133,0L-0.133,0L-0.133,-0.45L-0.272,-0.45Z"}},
{"data":{"values":[{"t":"2025-08-22T10:32:54","p":1394.73}]},"mark":{"type":"point","filled":true,"opacity":1,"size":40000,"color":"#00b050","strokeWidth":0,"shape":"M0,0.74L0.272,0.467L0.133,0.467L0.133,0L-0.133,0L-0.133,0.467L-0.272,0.467Z"}},
{"data":{"values":[{"t":"2025-08-22T10:48:38","p":1395.17,"txt":"「ウォン安」方向"},{"t":"2025-08-22T10:48:08","p":1394.23,"txt":"「ウォン高」方向"}]},"mark":{"type":"text","font":"Noto Sans CJK JP","fontSize":19,"fontWeight":500,"align":"left","baseline":"middle","color":"#111111"},"encoding":{"text":{"field":"txt"}}},
{"data":{"values":[{"t":"2025-08-22T13:43:30","p":1400.38,"txt":"22日(金)の天井「1ドル＝"},{"t":"2025-08-22T14:58:54","p":1400.38,"txt":"ウォン」"},{"t":"2025-08-22T13:41:12","p":1391.04,"txt":"22日(金)の天底「1ドル＝"},{"t":"2025-08-22T14:56:48","p":1391.04,"txt":"ウォン」"}]},"mark":{"type":"text","font":"Noto Sans CJK JP","fontSize":21,"fontWeight":"bold","align":"left","baseline":"middle","color":"#000000"},"encoding":{"text":{"field":"txt"}}},
{"data":{"values":[{"t":"2025-08-22T14:40:12","p":1400.38,"txt":"1,400.40"},{"t":"2025-08-22T14:38:00","p":1391.04,"txt":"1,391.04"}]},"mark":{"type":"text","font":"Noto Sans CJK JP","fontSize":20,"fontWeight":"bold","align":"left","baseline":"middle","color":"#c00000"},"encoding":{"text":{"field":"txt"}}},
{"data":{"values":[{"t":"2025-08-22T10:17:55","p":1390.78,"txt":"Investing"}]},"mark":{"type":"text","font":"Liberation Sans","fontSize":21,"fontWeight":"bold","align":"left","baseline":"middle","color":"#1a1a1a"},"encoding":{"text":{"field":"txt"}}},
{"data":{"values":[{"t":"2025-08-22T10:38:20","p":1390.75,"txt":".com"}]},"mark":{"type":"text","font":"Liberation Sans","fontSize":14,"align":"left","baseline":"middle","color":"#666666"},"encoding":{"text":{"field":"txt"}}},
{"data":{"values":[{"t":"2025-08-22T10:32:00","p":1390.88}]},"mark":{"type":"point","filled":true,"opacity":1,"size":14,"color":"#f5a623"}},
{"data":{"values":[{"t":"2025-08-22T10:16:20","p":1401.26,"txt":"⊟"}]},"mark":{"type":"text","font":"DejaVu Sans","fontSize":14,"align":"left","baseline":"middle","color":"#666666"},"encoding":{"text":{"field":"txt"}}},
{"data":{"values":[{"t":"2025-08-22T10:20:20","p":1401.26,"txt":"USD/KRW, 1, "}]},"mark":{"type":"text","font":"Noto Sans CJK JP","fontSize":15.5,"fontWeight":500,"align":"left","baseline":"middle","color":"#555555"},"encoding":{"text":{"field":"txt"}}},
{"data":{"values":[{"t":"2025-08-22T10:43:40","p":1401.26,"txt":"リアルタイム外国為替"}]},"mark":{"type":"text","font":"Noto Sans CJK JP","fontSize":17,"fontWeight":300,"align":"left","baseline":"middle","color":"#555555"},"encoding":{"text":{"field":"txt"}}},
{"data":{"values":[{"t":"2025-08-22T11:24:40","p":1401.26,"txt":"▾"}]},"mark":{"type":"text","font":"DejaVu Sans","fontSize":10,"align":"left","baseline":"middle","color":"#bbbbbb"},"encoding":{"text":{"field":"txt"}}},
{"data":{"values":[{"t":"2025-08-22T11:29:00","p":1401.265},{"t":"2025-08-22T11:32:50","p":1401.265}]},"mark":{"type":"square","filled":true,"opacity":1,"size":169,"color":"#d6d6d6"}},
{"data":{"values":[{"t":"2025-08-22T11:29:00","p":1401.265},{"t":"2025-08-22T11:32:50","p":1401.265}]},"mark":{"type":"circle","filled":false,"opacity":1,"size":28,"stroke":"#ffffff","strokeWidth":2}},
{"data":{"values":[{"t":"2025-08-22T11:36:18","p":1401.26,"txt":"始値"},{"t":"2025-08-22T11:57:48","p":1401.26,"txt":"高値"},{"t":"2025-08-22T12:19:18","p":1401.26,"txt":"安値"},{"t":"2025-08-22T12:40:30","p":1401.26,"txt":"終値"}]},"mark":{"type":"text","font":"Noto Sans CJK JP","fontSize":15,"fontWeight":300,"align":"left","baseline":"middle","color":"#555555"},"encoding":{"text":{"field":"txt"}}},
{"data":{"values":[{"t":"2025-08-22T11:43:48","p":1401.26,"txt":"1393.02"},{"t":"2025-08-22T12:05:06","p":1401.26,"txt":"1393.40"},{"t":"2025-08-22T12:26:24","p":1401.26,"txt":"1393.02"},{"t":"2025-08-22T12:47:48","p":1401.26,"txt":"1393.36"}]},"mark":{"type":"text","font":"Liberation Sans","fontSize":14,"align":"left","baseline":"middle","color":"#6b2323"},"encoding":{"text":{"field":"txt"}}},
{"data":{"values":[{"t":"2025-08-22T15:46:36","p":1401.5,"txt":"1401.50"}]},"mark":{"type":"text","font":"Liberation Sans","fontSize":11,"align":"left","baseline":"middle","color":"#555555"},"encoding":{"text":{"field":"txt"}}},
{"data":{"values":[{"t":"2025-08-22T15:44:54","t2":"2025-08-22T15:55:40","p":1400.95,"p2":1400.77}]},"mark":{"type":"rect","color":"#555555"},"encoding":{"x2":{"field":"t2"},"y2":{"field":"p2"}}},
{"data":{"values":[{"t":"2025-08-22T15:44:54","t2":"2025-08-22T15:55:40","p":1393.45,"p2":1393.27}]},"mark":{"type":"rect","color":"#4a74e8"},"encoding":{"x2":{"field":"t2"},"y2":{"field":"p2"}}},
{"data":{"values":[{"t":"2025-08-22T15:44:54","t2":"2025-08-22T15:55:40","p":1390.465,"p2":1390.41}]},"mark":{"type":"rect","color":"#ffffff"},"encoding":{"x2":{"field":"t2"},"y2":{"field":"p2"}}},
{"data":{"values":[{"t":"2025-08-22T15:19:24","t2":"2025-08-22T15:44:30","p":1390.46,"p2":1390.25}]},"mark":{"type":"rect","color":"#555555"},"encoding":{"x2":{"field":"t2"},"y2":{"field":"p2"}}},
{"data":{"values":[{"t":"2025-08-22T15:46:36","p":1400.86,"txt":"1400.86"},{"t":"2025-08-22T15:46:36","p":1393.36,"txt":"1393.36"}]},"mark":{"type":"text","font":"Liberation Sans","fontSize":11,"fontWeight":"bold","align":"left","baseline":"middle","color":"#ffffff"},"encoding":{"text":{"field":"txt"}}},
{"data":{"values":[{"t":"2025-08-22T15:31:54","p":1390.33,"txt":"2025-08-22 15:40:00"}]},"mark":{"type":"text","font":"Liberation Sans","fontSize":11,"fontWeight":"bold","align":"center","baseline":"middle","color":"#ffffff"},"encoding":{"text":{"field":"txt"}}}
]}
